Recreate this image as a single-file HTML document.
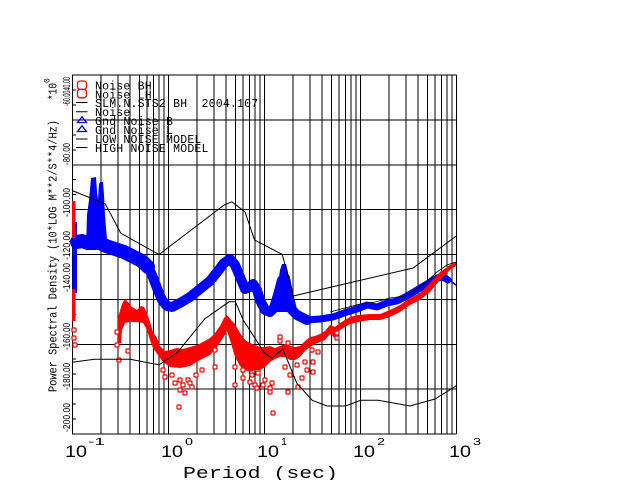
<!DOCTYPE html>
<html><head><meta charset="utf-8"><style>
html,body{margin:0;padding:0;background:#fff;}
body{width:640px;height:480px;overflow:hidden;}
svg text{white-space:pre;}
</style></head><body>
<svg width="640" height="480" viewBox="0 0 640 480" xmlns="http://www.w3.org/2000/svg">
<rect width="640" height="480" fill="#fff"/>
<!-- grid -->
<path fill="none" stroke="#000" stroke-width="1" shape-rendering="crispEdges" d="
M72.3 75V434M101.2 75V434M118.1 75V434M130.1 75V434M139.4 75V434M147 75V434M153.4 75V434M159 75V434M163.9 75V434
M168.3 75V434M197.2 75V434M214.1 75V434M226.1 75V434M235.4 75V434M243 75V434M249.4 75V434M255 75V434M259.9 75V434
M264.3 75V434M293.2 75V434M310.1 75V434M322.1 75V434M331.4 75V434M339 75V434M345.4 75V434M351 75V434M355.9 75V434
M360.3 75V434M389.2 75V434M406.1 75V434M418.1 75V434M427.4 75V434M435 75V434M441.4 75V434M447 75V434M451.9 75V434
M456.3 75V434
M72 75H456.3M72 119.9H456.3M72 164.75H456.3M72 209.6H456.3M72 254.5H456.3M72 299.4H456.3M72 344.25H456.3M72 389.1H456.3M72 434H456.3
M72 90H76M72 104.9H76M72 134.8H76M72 149.8H76M72 179.7H76M72 194.7H76M72 224.6H76M72 239.5H76M72 269.5H76M72 284.4H76M72 314.3H76M72 329.3H76M72 359.2H76M72 374.2H76M72 404.1H76M72 419H76
"/>

<!-- blue Gnd Noise -->
<g fill="#0000ff" stroke="none">
<rect x="72.5" y="222" width="4.5" height="71"/>
<polygon points="86,250 87,215 89,200 90,190 91,178 96,177 97,192 98,200 99,184 100,182 103,182 104,195 105,215 107,240 107,250"/>
<polygon points="276,312 278,285 280,270 282,264 286,264 288,272 290,295 292,312"/>
</g>
<g fill="none" stroke="#0000ff" stroke-linejoin="round" stroke-linecap="round">
<polyline stroke-width="14" points="77,242 82,241 88,243 94,241 100,243 106,246 112,248 118,250 124,252 130,255 136,258 140,260 144,263 148,267"/>
<polyline stroke-width="10" points="148,267 152,275 157,288 162,300 167,306 172,307 180,303 190,297 200,289 210,281 218,271 224,263 230,259 235,265 240,277 245,289 250,287 253,284 257,290 260,300 265,310 270,312 274,308 278,295 282,280 285,278 288,293 292,310 297,315 307,320"/>
<polyline stroke-width="7" points="297,315 307,320 320,319 333,317 347,312 357,309 367,305 377,307 387,303 397,301 407,296 417,290 427,284 437,278 443,277 448,280"/>
<polyline stroke-width="1.5" points="448,280 452,282 456,285"/>
</g>

<!-- red Noise -->
<g fill="#ff0000" stroke="none">
<rect x="72" y="201" width="3.5" height="37"/>
<rect x="72" y="289" width="3.5" height="32"/>
<polygon points="118,318 121,307 123,302 125,299 128,302 132,307 137,310 141,306 144,307 147,313 150,322 153,332 157,338 160,346 165,351 170,350 177,348 183,349 190,347 197,345 203,342 210,338 215,333 220,326 224,318 227,315 231,320 235,324 240,333 245,340 250,343 255,345 260,347 265,347 270,346 275,348 280,346 285,344 290,346 295,347 300,346 305,341 310,337 315,336 320,334 325,331 330,325 335,327 340,323 345,320 350,317 358,315 370,314 380,314 390,310 400,305 410,298 420,293 430,283 440,272 450,265 456,262
456,266 450,270 440,280 430,292 420,300 410,305 400,312 390,317 380,320 370,320 358,322 350,324 345,327 340,330 335,338 330,334 325,340 320,342 315,344 310,347 305,351 300,357 295,360 290,360 285,357 280,357 275,359 270,362 265,367 260,370 255,370 250,372 245,370 240,366 235,357 230,340 227,331 223,338 217,347 210,355 200,360 190,366 180,368 170,367 163,362 158,355 153,348 150,340 147,330 143,323 137,322 130,322 125,323 122,330 121,343 118,343"/>
</g>
<g fill="#fff" stroke="#ff0000" stroke-width="1.2">
<rect x="72" y="328" width="4" height="4" rx="1"/><rect x="72" y="336" width="4" height="4" rx="1"/><rect x="73" y="343" width="4" height="4" rx="1"/>
<rect x="115" y="330" width="4" height="4" rx="1"/><rect x="115" y="343" width="4" height="4" rx="1"/><rect x="117" y="358" width="4" height="4" rx="1"/><rect x="126" y="349" width="4" height="4" rx="1"/>
<rect x="161" y="368" width="4" height="4" rx="1"/><rect x="163" y="375" width="4" height="4" rx="1"/><rect x="170" y="373" width="4" height="4" rx="1"/><rect x="173" y="381" width="4" height="4" rx="1"/>
<rect x="178" y="378" width="4" height="4" rx="1"/><rect x="178" y="388" width="4" height="4" rx="1"/><rect x="181" y="383" width="4" height="4" rx="1"/><rect x="183" y="391" width="4" height="4" rx="1"/>
<rect x="186" y="378" width="4" height="4" rx="1"/><rect x="188" y="381" width="4" height="4" rx="1"/><rect x="190" y="385" width="4" height="4" rx="1"/><rect x="177" y="405" width="4" height="4" rx="1"/>
<rect x="200" y="368" width="4" height="4" rx="1"/><rect x="213" y="365" width="4" height="4" rx="1"/><rect x="213" y="348" width="4" height="4" rx="1"/><rect x="194" y="373" width="4" height="4" rx="1"/>
<rect x="233" y="365" width="4" height="4" rx="1"/><rect x="233" y="383" width="4" height="4" rx="1"/><rect x="241" y="368" width="4" height="4" rx="1"/><rect x="241" y="376" width="4" height="4" rx="1"/>
<rect x="248" y="380" width="4" height="4" rx="1"/><rect x="250" y="373" width="4" height="4" rx="1"/><rect x="253" y="383" width="4" height="4" rx="1"/><rect x="255" y="386" width="4" height="4" rx="1"/>
<rect x="256" y="371" width="4" height="4" rx="1"/><rect x="261" y="383" width="4" height="4" rx="1"/><rect x="263" y="378" width="4" height="4" rx="1"/><rect x="268" y="386" width="4" height="4" rx="1"/>
<rect x="268" y="390" width="4" height="4" rx="1"/><rect x="270" y="381" width="4" height="4" rx="1"/><rect x="271" y="411" width="4" height="4" rx="1"/><rect x="278" y="335" width="4" height="4" rx="1"/>
<rect x="278" y="339" width="4" height="4" rx="1"/><rect x="283" y="365" width="4" height="4" rx="1"/><rect x="286" y="341" width="4" height="4" rx="1"/><rect x="288" y="373" width="4" height="4" rx="1"/>
<rect x="286" y="390" width="4" height="4" rx="1"/><rect x="295" y="363" width="4" height="4" rx="1"/><rect x="296" y="385" width="4" height="4" rx="1"/><rect x="300" y="376" width="4" height="4" rx="1"/>
<rect x="303" y="360" width="4" height="4" rx="1"/><rect x="305" y="368" width="4" height="4" rx="1"/><rect x="310" y="348" width="4" height="4" rx="1"/><rect x="311" y="360" width="4" height="4" rx="1"/>
<rect x="311" y="370" width="4" height="4" rx="1"/><rect x="316" y="350" width="4" height="4" rx="1"/><rect x="335" y="331" width="4" height="4" rx="1"/><rect x="335" y="336" width="4" height="4" rx="1"/>
</g>

<!-- model / other lines -->
<g fill="none" stroke="#000" stroke-width="1">
<polyline points="72.3,190.6 105.2,203.8 120.8,233.2 159,254.5 224,205.1 231.9,201.8 245,211.9 254.5,239.9 282.3,254.5 293.2,296 413.1,268 456.3,236"/>
<polyline points="72.3,362.2 94.4,359.3 130.1,359.3 159,364.9 177.3,352.6 204.8,318.8 229.1,301.8 235.4,301.8 243,319.6 264.3,352.7 271.9,358.3 282.8,349 297,383.5 312.3,400.3 327,406 345.4,406 360.7,400.3 378.3,400.3 409.8,406 435,399 456.3,385.8"/>
<polyline stroke-width="0.8" points="330,312 345,308 360,304 375,302 390,298 405,296 415,290 425,283 437,272 447,265 456,262"/>
</g>

<!-- legend -->
<g fill="none" stroke-width="1.3">
<rect x="77.5" y="81" width="9" height="8.3" rx="2.5" stroke="#ff0000"/>
<rect x="77.5" y="89.5" width="9" height="8.3" rx="2.5" stroke="#ff0000"/>
<path d="M76 102.5H87.5M76 111.7H87.5M76 139H87.5M76 147.5H87.5" stroke="#000" stroke-width="1"/>
<path d="M82 116.8L86.5 122.5H77.5Z" stroke="#0000ff"/>
<path d="M82 125.8L86.5 131.5H77.5Z" stroke="#0000ff"/>
</g>
<g font-family="'Liberation Mono', monospace" font-size="11.5" fill="#000" letter-spacing="0.2">
<text x="95" y="89.5">Noise BH</text>
<text x="95" y="98.3">Noise LH</text>
<text x="95" y="107">SLM.N.STS2 BH  2004.107</text>
<text x="95" y="116">Noise</text>
<text x="95" y="125">Gnd Noise B</text>
<text x="95" y="134">Gnd Noise L</text>
<text x="95" y="143">LOW NOISE MODEL</text>
<text x="95" y="152">HIGH NOISE MODEL</text>
</g>

<!-- y tick labels -->
<g font-family="'Liberation Sans', sans-serif" font-size="10.5" fill="#000">
<text transform="translate(69.8,106) rotate(-90)" textLength="29" lengthAdjust="spacingAndGlyphs">-60.0040.00</text>
<text transform="translate(69.8,165) rotate(-90)" textLength="22" lengthAdjust="spacingAndGlyphs">-80.00</text>
<text transform="translate(69.8,217) rotate(-90)" textLength="29" lengthAdjust="spacingAndGlyphs">-100.00</text>
<text transform="translate(69.8,260) rotate(-90)" textLength="29" lengthAdjust="spacingAndGlyphs">-120.00</text>
<text transform="translate(69.8,292) rotate(-90)" textLength="29" lengthAdjust="spacingAndGlyphs">-140.00</text>
<text transform="translate(69.8,350) rotate(-90)" textLength="27" lengthAdjust="spacingAndGlyphs">-160.00</text>
<text transform="translate(69.8,390) rotate(-90)" textLength="27" lengthAdjust="spacingAndGlyphs">-180.00</text>
<text transform="translate(69.8,432) rotate(-90)" textLength="29" lengthAdjust="spacingAndGlyphs">-200.00</text>
</g>

<!-- y title -->
<g font-family="'Liberation Mono', monospace" font-size="11.5" fill="#000">
<text transform="translate(56.5,392) rotate(-90)" textLength="272" lengthAdjust="spacingAndGlyphs">Power Spectral Density (10*LOG M**2/S**4/Hz)</text>
<text transform="translate(56.5,100) rotate(-90)" textLength="17" lengthAdjust="spacingAndGlyphs">*10</text>
<text transform="translate(49.5,83) rotate(-90)" font-size="8">0</text>
</g>

<!-- x tick labels -->
<g font-family="'Liberation Sans', sans-serif" fill="#000">
<text x="65" y="457" font-size="17" textLength="22" lengthAdjust="spacingAndGlyphs">10</text>
<text x="88" y="445" font-size="10" textLength="17" lengthAdjust="spacingAndGlyphs">-1</text>
<text x="161" y="457" font-size="17" textLength="22" lengthAdjust="spacingAndGlyphs">10</text>
<text x="185" y="445" font-size="10" textLength="8" lengthAdjust="spacingAndGlyphs">0</text>
<text x="257" y="457" font-size="17" textLength="22" lengthAdjust="spacingAndGlyphs">10</text>
<text x="281" y="445" font-size="10" textLength="6" lengthAdjust="spacingAndGlyphs">1</text>
<text x="353" y="457" font-size="17" textLength="22" lengthAdjust="spacingAndGlyphs">10</text>
<text x="377" y="445" font-size="10" textLength="8" lengthAdjust="spacingAndGlyphs">2</text>
<text x="449" y="457" font-size="17" textLength="22" lengthAdjust="spacingAndGlyphs">10</text>
<text x="473" y="445" font-size="10" textLength="8" lengthAdjust="spacingAndGlyphs">3</text>
</g>
<text x="183" y="478" font-family="'Liberation Mono', monospace" font-size="17" fill="#000" textLength="155" lengthAdjust="spacingAndGlyphs">Period (sec)</text>
</svg>
</body></html>
